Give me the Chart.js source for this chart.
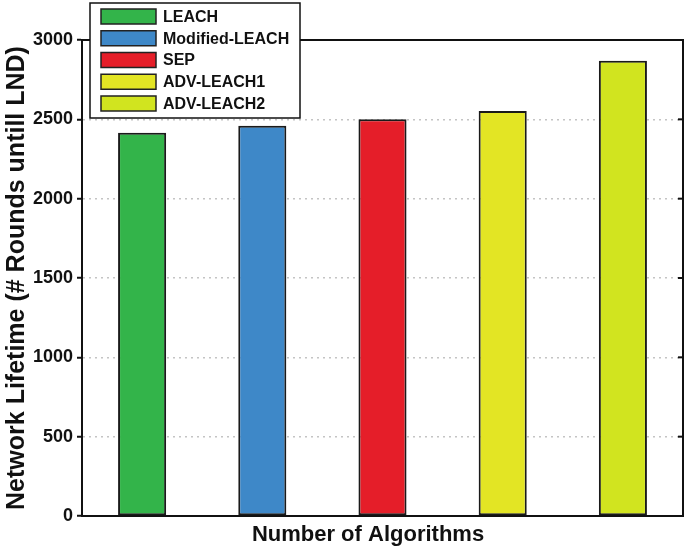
<!DOCTYPE html>
<html>
<head>
<meta charset="utf-8">
<script src="https://cdn.jsdelivr.net/npm/chart.js@4/dist/chart.umd.min.js"></script>
<style>
  html, body { margin: 0; padding: 0; background: #fff; }
  #wrap { width: 685px; height: 549px; }
</style>
</head>
<body>
<div id="wrap"><canvas id="c" width="685" height="549"></canvas></div>
<script>
const categories = ["LEACH", "Modified-LEACH", "SEP", "ADV-LEACH1", "ADV-LEACH2"];
const lifetimeValues = [2415, 2460, 2500, 2552, 2870];
const barColors = ["#33b44a", "#3e88c8", "#e51e29", "#e3e524", "#d1e41f"];
const yTicks = [0, 500, 1000, 1500, 2000, 2500, 3000];
const xTitle = "Number of Algorithms";
const yTitle = "Network Lifetime (# Rounds untill LND)";

const FONT = "'Liberation Sans', Arial, sans-serif";

const framePlugin = {
  id: 'frame',
  afterDraw(chart) {
    const { ctx, chartArea: a, scales } = chart;
    ctx.save();
    ctx.setLineDash([]);
    ctx.strokeStyle = '#111';
    ctx.lineWidth = 2;
    ctx.strokeRect(a.left, a.top, a.right - a.left, a.bottom - a.top);
    // inward ticks on right edge
    yTicks.forEach(v => {
      const y = scales.y.getPixelForValue(v);
      ctx.beginPath();
      ctx.moveTo(a.right - 5, y);
      ctx.lineTo(a.right, y);
      ctx.stroke();
    });
    // x axis title
    ctx.fillStyle = '#111';
    ctx.font = "bold 22px " + FONT;
    ctx.textAlign = 'center';
    ctx.textBaseline = 'alphabetic';
    ctx.fillText(xTitle, 368, 541);
    // legend box
    const lx = 90, ly = 3, lw = 210, lh = 115;
    ctx.fillStyle = '#fff';
    ctx.fillRect(lx, ly, lw, lh);
    ctx.lineWidth = 1.5;
    ctx.strokeStyle = '#111';
    ctx.strokeRect(lx, ly, lw, lh);
    ctx.font = "bold 16px " + FONT;
    ctx.textBaseline = 'middle';
    ctx.textAlign = 'left';
    categories.forEach((name, i) => {
      const cy = 16.5 + i * 21.75;
      ctx.fillStyle = barColors[i];
      ctx.fillRect(101, cy - 7.5, 55, 15);
      ctx.lineWidth = 1.5;
      ctx.strokeStyle = '#222';
      ctx.strokeRect(101, cy - 7.5, 55, 15);
      ctx.fillStyle = '#111';
      ctx.fillText(name, 163, cy + 1);
    });
    ctx.restore();
  }
};

new Chart(document.getElementById('c'), {
  type: 'bar',
  data: {
    labels: categories,
    datasets: [{
      label: 'Network Lifetime',
      data: lifetimeValues,
      backgroundColor: barColors,
      borderColor: '#1a1a1a',
      borderWidth: 2,
      borderSkipped: false,
      categoryPercentage: 0.4,
      barPercentage: 1.0
    }]
  },
  options: {
    responsive: false,
    animation: false,
    devicePixelRatio: 1,
    layout: { padding: { top: 40, right: 2, left: 0, bottom: 0 } },
    plugins: { legend: { display: false }, tooltip: { enabled: false } },
    scales: {
      x: {
        grid: { display: false, drawTicks: false },
        border: { display: true, color: '#111', width: 2 },
        ticks: { display: false },
        title: { display: false },
        afterFit(scale) { scale.height = 33; }
      },
      y: {
        min: 0, max: 3000,
        afterBuildTicks(scale) { scale.ticks = yTicks.map(v => ({ value: v })); },
        grid: {
          color: '#c4c4c4', lineWidth: 1.5,
          drawTicks: true, tickLength: 5, tickColor: '#111', tickWidth: 2, tickBorderDash: [0, 0]
        },
        border: { display: true, color: '#111', width: 2, dash: [2, 4] },
        ticks: {
          color: '#111', padding: 4,
          font: { family: FONT, size: 18, weight: 'bold' },
          callback: (v) => String(v)
        },
        title: {
          display: true, text: yTitle, color: '#111',
          font: { family: FONT, size: 25, weight: 'bold' },
          padding: { top: 2, bottom: 0 }
        },
        afterFit(scale) { scale.width = 82; }
      }
    }
  },
  plugins: [framePlugin]
});
</script>
</body>
</html>
